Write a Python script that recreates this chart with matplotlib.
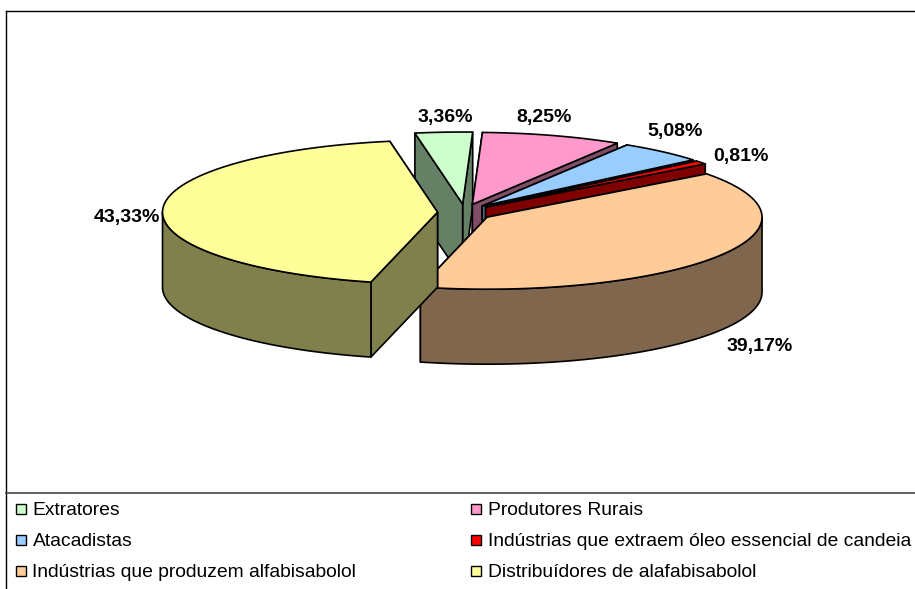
import numpy as np
import matplotlib
matplotlib.use("Agg")
import matplotlib.pyplot as plt
from matplotlib.patches import Polygon, Rectangle

plt.rcParams['font.family'] = ['Liberation Sans', 'DejaVu Sans']

categories = ["Extratores", "Produtores Rurais", "Atacadistas",
              "Indústrias que extraem óleo essencial de candeia",
              "Indústrias que produzem alfabisabolol",
              "Distribuídores de alafabisabolol"]
values = [3.36, 8.25, 5.08, 0.81, 39.17, 43.33]
value_labels = ["3,36%", "8,25%", "5,08%", "0,81%", "39,17%", "43,33%"]

top_colors = ["#CCFFCC", "#FF99CC", "#99CCFF", "#FF0000", "#FFCC99", "#FFFF99"]
side_colors = ["#668066", "#804D66", "#4D6680", "#800000", "#80664D", "#80804D"]
label_pos = [(445.5, 117.5), (544.5, 117.5), (675.5, 131.5), (740.5, 156.5), (759.5, 346.5), (127, 217.5)]

CX, CY = 464.5, 212.5
RX, RY = 275, 72
DEPTH = 75
EX, EY = 27, 8.5
START = 350.0

fig = plt.figure(figsize=(9.15, 5.89), dpi=100)
ax = fig.add_axes([0, 0, 1, 1])
ax.set_xlim(0, 915)
ax.set_ylim(589, 0)
ax.axis("off")


def rim(a, x0, y0):
    r = np.radians(a)
    return x0 + RX * np.sin(r), y0 - RY * np.cos(r)


def poly(xs, ys, color, z):
    ax.add_patch(Polygon(np.column_stack([xs, ys]), closed=True, facecolor=color,
                         edgecolor="black", linewidth=1.2, joinstyle="round", zorder=z))


edges = START + np.concatenate([[0], np.cumsum(values)]) * 3.6
z = 2
for i in range(len(values)):
    a0, a1 = edges[i], edges[i + 1]
    mid = np.radians((a0 + a1) / 2)
    x0 = CX + EX * np.sin(mid)
    y0 = CY - EY * np.cos(mid)
    # cut faces, rear one first
    for a in sorted((a0, a1), key=lambda t: np.cos(np.radians(t)), reverse=True):
        xr, yr = rim(a, x0, y0)
        poly([x0, xr, xr, x0], [y0, yr, yr + DEPTH, y0 + DEPTH], side_colors[i], z)
        z += 1
    # outer wall (only the part facing the viewer)
    for k in (0, 360):
        lo = max(a0, 90 + k)
        hi = min(a1, 270 + k)
        if hi > lo:
            t = np.linspace(lo, hi, 120)
            xr, yr = rim(t, x0, y0)
            poly(np.r_[xr, xr[::-1]], np.r_[yr, yr[::-1] + DEPTH], side_colors[i], z)
            z += 1
    # top face
    t = np.linspace(a0, a1, 160)
    xr, yr = rim(t, x0, y0)
    poly(np.r_[x0, xr], np.r_[y0, yr], top_colors[i], z)
    z += 1

for lab, (lx, ly) in zip(value_labels, label_pos):
    ax.text(lx, ly, lab, ha="center", va="center", fontsize=14, fontweight="bold",
            color="black", zorder=100)

# chart frame and legend separator
ax.plot([6, 6], [11, 589], color="black", lw=1.0, zorder=101)
ax.plot([6, 915], [11, 11], color="black", lw=1.0, zorder=101)
ax.plot([6, 915], [493, 493], color="#444444", lw=1.2, zorder=101)

# legend
col_x = [16, 471]
row_y = [509, 540, 571]
for i, name in enumerate(categories):
    mx = col_x[i % 2]
    my = row_y[i // 2]
    ax.add_patch(Rectangle((mx + 1, my - 4), 10, 10, facecolor="#999999", edgecolor="none", zorder=101))
    ax.add_patch(Rectangle((mx, my - 5), 10, 10, facecolor=top_colors[i], edgecolor="black",
                           linewidth=1.0, zorder=102))
    ax.text(mx + 16.5, my + 1.6, name, ha="left", va="center", fontsize=13.85, color="black",
            zorder=102, clip_on=True)

fig.savefig("out.png", dpi=100, facecolor="white")
